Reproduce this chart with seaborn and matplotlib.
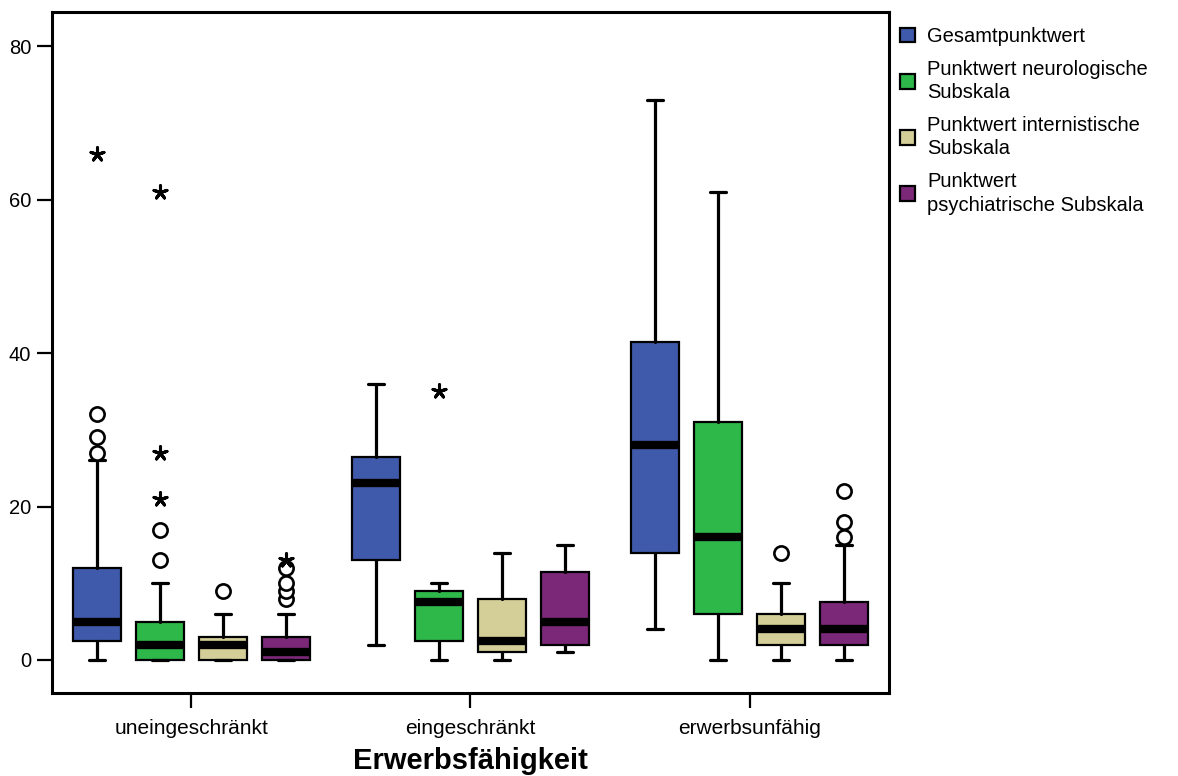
import matplotlib
matplotlib.use("Agg")
import matplotlib.pyplot as plt
from matplotlib.patches import Patch
import seaborn as sns

# Categories and series
groups = ["uneingeschränkt", "eingeschränkt", "erwerbsunfähig"]
series = [
    "Gesamtpunktwert",
    "Punktwert neurologische\nSubskala",
    "Punktwert internistische\nSubskala",
    "Punktwert\npsychiatrische Subskala",
]
colors = ["#3F5AAA", "#2FB84A", "#D4CF98", "#7B2878"]

# Box statistics per group: one entry per series
# (lower whisker, Q1, median, Q3, upper whisker)
whislo = [[0, 0, 0, 0], [2, 0, 0, 1], [4, 0, 0, 0]]
q1 = [[2.5, 0, 0, 0], [13, 2.5, 1, 2], [14, 6, 2, 2]]
med = [[5, 2, 2, 1], [23, 7.5, 2.5, 5], [28, 16, 4, 4]]
q3 = [[12, 5, 3, 3], [26.5, 9, 8, 11.5], [41.5, 31, 6, 7.5]]
whishi = [[26, 10, 6, 6], [36, 10, 14, 15], [73, 61, 10, 15]]

# Outliers (circles) and extreme values (asterisks)
outliers = [
    [[27, 29, 32], [13, 17], [9], [8, 9, 10, 12]],
    [[], [], [], []],
    [[], [], [14], [16, 18, 22]],
]
extremes = [
    [[66], [21, 27, 61], [], [13]],
    [[], [35], [], []],
    [[], [], [], []],
]

sns.set_theme(style="white")
plt.rcParams["font.family"] = ["Liberation Sans", "DejaVu Sans"]
plt.rcParams["text.color"] = "black"
plt.rcParams["axes.labelcolor"] = "black"
plt.rcParams["xtick.color"] = "black"
plt.rcParams["ytick.color"] = "black"

fig = plt.figure(figsize=(11.78, 7.76), dpi=100)
ax = fig.add_axes([0.0441, 0.107, 0.7106, 0.8771])

step = 0.225
width = 0.172
offsets = [(-1.5 + k) * step for k in range(len(series))]

for g in range(len(groups)):
    for s in range(len(series)):
        pos = g + offsets[s]
        stats = [dict(whislo=whislo[g][s], q1=q1[g][s], med=med[g][s],
                      q3=q3[g][s], whishi=whishi[g][s], fliers=[])]
        ax.bxp(stats, positions=[pos], widths=width, patch_artist=True,
               showfliers=False, capwidths=0.058,
               boxprops=dict(facecolor=colors[s], edgecolor="black", linewidth=1.6),
               medianprops=dict(color="black", linewidth=6, solid_capstyle="butt"),
               whiskerprops=dict(color="black", linewidth=2.3),
               capprops=dict(color="black", linewidth=2.3))
        vals = outliers[g][s]
        if vals:
            ax.scatter([pos] * len(vals), vals, s=105, marker="o",
                       facecolors="white", edgecolors="black", linewidths=1.9,
                       zorder=4)
        vals = extremes[g][s]
        if vals:
            ax.scatter([pos] * len(vals), vals, s=95, marker=(5, 2, 0),
                       color="black", linewidths=2.2, zorder=4)

ax.set_xlim(-0.5, 2.5)
ax.set_ylim(-4.3, 84.4)
ax.set_xticks(range(len(groups)))
ax.set_xticklabels(groups, fontsize=15)
ax.set_yticks([0, 20, 40, 60, 80])
ax.set_yticklabels(["0", "20", "40", "60", "80"], fontsize=14.5)
ax.tick_params(axis="both", which="major", direction="out", length=11,
               width=1.6, color="black", bottom=True, left=True, pad=4)
ax.tick_params(axis="x", pad=8)
ax.set_xlabel("Erwerbsfähigkeit", fontsize=21, fontweight="bold", labelpad=6)
ax.set_ylabel("")
for sp in ax.spines.values():
    sp.set_visible(True)
    sp.set_color("black")
    sp.set_linewidth(2.2)
ax.grid(False)

handles = [Patch(facecolor=c, edgecolor="black", linewidth=1.6) for c in colors]
leg = fig.legend(handles, series, loc="upper left",
                 bbox_to_anchor=(900 / 1178, 1 - 27 / 776), frameon=False,
                 fontsize=14.5, handlelength=0.75, handleheight=0.75,
                 handletextpad=0.6, labelspacing=0.68, borderpad=0,
                 borderaxespad=0)
for t in leg.get_texts():
    t.set_linespacing(1.3)

fig.savefig("out.png", dpi=100, facecolor="white")
